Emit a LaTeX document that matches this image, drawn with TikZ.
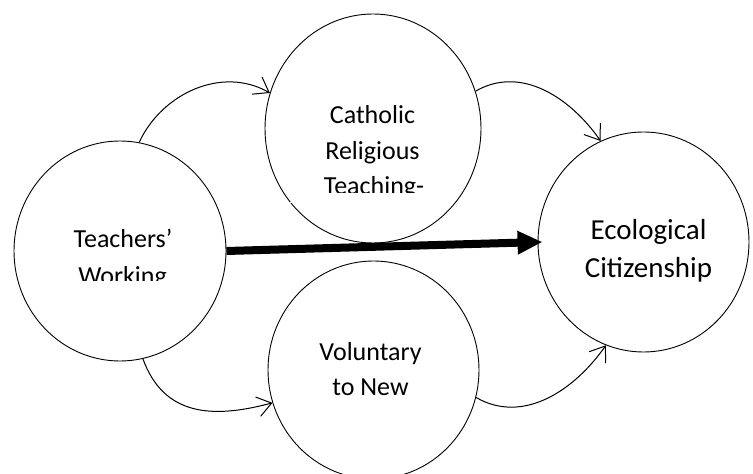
\documentclass[tikz,border=0pt]{standalone}
\usepackage{fontspec}
\setmainfont{Carlito}
\usetikzlibrary{shapes.geometric,arrows.meta}
\begin{document}
\begin{tikzpicture}[x=1pt,y=1pt,
  bubble/.style={ellipse,draw,line width=0.9pt,inner sep=0pt},
  lbl/.style={anchor=base,inner sep=0pt,font=\fontsize{26}{31}\selectfont},
  lblbig/.style={anchor=base,inner sep=0pt,font=\fontsize{29}{35}\selectfont},
  flow/.style={line width=1pt,-{Straight Barb[length=14pt,width=20pt]}},
  mainflow/.style={line width=8pt,-{Triangle[length=25pt,width=22pt]}}]
\useasboundingbox (0,0) rectangle (753,474);
% circles
\node[bubble,minimum width=212pt,minimum height=220pt] (tw) at (120,223) {};
\node[bubble,minimum width=216pt,minimum height=229pt] (crt) at (373,345.5) {};
\node[bubble,minimum width=211pt,minimum height=218pt] (vol) at (373.5,104) {};
\node[bubble,minimum width=211pt,minimum height=220pt] (eco) at (643.5,232) {};
% white text-box edge crossing the top circle
\fill[white] (290,270.6) rectangle (453,272.4);
% labels
\node[lbl] (t1) at (372.5,350) {Catholic};
\node[lbl] (t2) at (372.5,314.5) {Religious};
\begin{scope}
\clip (0,281) rectangle (753,474);
\node[lbl] (t3) at (374,279) {Teaching-};
\end{scope}
\node[lbl] (t4) at (123,226) {Teachers’};
\begin{scope}
\clip (0,193) rectangle (753,474);
\node[lbl] (t5) at (122.5,189) {Working};
\end{scope}
\node[lblbig] (t6) at (648.5,234) {Ecological};
\node[lblbig] (t7) at (648.5,196) {Citizenship};
\node[lbl] (t8) at (370.5,113) {Voluntary};
\node[lbl] (t9) at (370.5,78) {to New};
% connectors
\draw[mainflow] (tw.east) -- ([xshift=5pt]eco.west);
\draw[flow] (tw.80) to[out=65,in=150] (crt.161);
\draw[flow] (crt.20) to[out=30,in=125] (eco.113);
\draw[flow] (tw.-78) to[out=-70,in=195,looseness=1.15] (vol.198);
\draw[flow] (vol.-15) to[out=-30,in=-125] (eco.-110);
\end{tikzpicture}
\end{document}
